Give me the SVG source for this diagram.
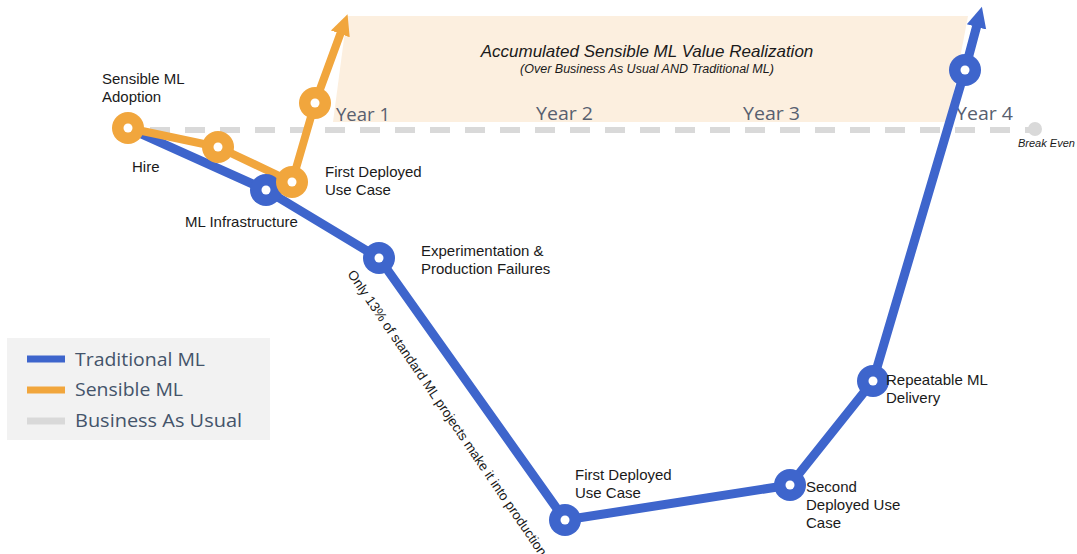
<svg xmlns="http://www.w3.org/2000/svg" width="1077" height="554" viewBox="0 0 1077 554">
<style>
  .lbl{font-family:"Liberation Sans",Arial,sans-serif;font-size:15px;fill:#1a1a1a}
  .yr{font-family:"Open Sans","Noto Sans",sans-serif;font-size:19px;font-weight:500;fill:#58606f}
  .leg{font-family:"Open Sans","Noto Sans",sans-serif;font-size:19px;font-weight:500;fill:#44546a}
  .it{font-family:"Liberation Sans",Arial,sans-serif;font-style:italic;fill:#1a1a1a}
  .blue{stroke:#3e65cc;stroke-width:9;fill:none;stroke-linejoin:round}
  .orange{stroke:#f1a63d;stroke-width:8;fill:none;stroke-linejoin:round}
  .bn{fill:#3e65cc}
  .on{fill:#f1a63d}
  .dot{fill:#ffffff}
</style>
<defs>
  <marker id="ab" markerUnits="userSpaceOnUse" markerWidth="22" markerHeight="22" viewBox="0 0 22 22" refX="2" refY="11" orient="auto">
    <path d="M0,1 L21,11 L0,21 z" fill="#3e65cc"/>
  </marker>
  <marker id="ao" markerUnits="userSpaceOnUse" markerWidth="22" markerHeight="22" viewBox="0 0 22 22" refX="2" refY="11" orient="auto">
    <path d="M0,1 L21,11 L0,21 z" fill="#f1a63d"/>
  </marker>
</defs>
<rect width="1077" height="554" fill="#ffffff"/>
<g id="value-band">
  <polygon points="347,16 968,16 948,122 333,122" fill="#fcefdf"/>
  <text class="it" x="647" y="57" font-size="17" text-anchor="middle">Accumulated Sensible ML Value Realization</text>
  <text class="it" x="647" y="73" font-size="12.5" text-anchor="middle">(Over Business As Usual AND Traditional ML)</text>
</g>
<g id="years">
  <text class="yr" x="336" y="121" textLength="54" lengthAdjust="spacingAndGlyphs">Year 1</text>
  <text class="yr" x="536" y="120" textLength="57" lengthAdjust="spacingAndGlyphs">Year 2</text>
  <text class="yr" x="743" y="120" textLength="57" lengthAdjust="spacingAndGlyphs">Year 3</text>
  <text class="yr" x="956" y="120" textLength="57" lengthAdjust="spacingAndGlyphs">Year 4</text>
</g>
<g id="connectors">
  <line x1="150" y1="130" x2="1030" y2="130" stroke="#d9d9d9" stroke-width="6" stroke-dasharray="20 15"/>
  <polyline class="blue" points="128,128 266,190 379,258 565,520 790,485 873,381 965,70 977,25" marker-end="url(#ab)"/>
  <polyline class="orange" points="128,128 218,147 292,182 315,103 341,32" marker-end="url(#ao)"/>
</g>
<g id="break-even">
  <circle cx="1035" cy="129" r="7" fill="#d9d9d9"/>
  <text class="it" x="1018" y="147" font-size="11">Break Even</text>
</g>
<g id="ml-infrastructure"><circle class="bn" cx="266" cy="190" r="16"/><circle class="dot" cx="266" cy="190" r="4.5"/>
  <text class="lbl" x="185" y="227">ML Infrastructure</text></g>
<g id="experimentation"><circle class="bn" cx="379" cy="258" r="16"/><circle class="dot" cx="379" cy="258" r="4.5"/>
  <text class="lbl" x="421" y="256">Experimentation &amp;</text>
  <text class="lbl" x="421" y="274">Production Failures</text></g>
<g id="first-deployed-trad"><circle class="bn" cx="565" cy="520" r="16"/><circle class="dot" cx="565" cy="520" r="4.5"/>
  <text class="lbl" x="575" y="480">First Deployed</text>
  <text class="lbl" x="575" y="498">Use Case</text></g>
<g id="second-deployed"><circle class="bn" cx="790" cy="485" r="16"/><circle class="dot" cx="790" cy="485" r="4.5"/>
  <text class="lbl" x="806" y="492">Second</text>
  <text class="lbl" x="806" y="510">Deployed Use</text>
  <text class="lbl" x="806" y="528">Case</text></g>
<g id="repeatable"><circle class="bn" cx="873" cy="381" r="16"/><circle class="dot" cx="873" cy="381" r="4.5"/>
  <text class="lbl" x="886" y="385">Repeatable ML</text>
  <text class="lbl" x="886" y="403">Delivery</text></g>
<g id="year4-node"><circle class="bn" cx="965" cy="70" r="16"/><circle class="dot" cx="965" cy="70" r="4.5"/></g>
<g id="adoption"><circle class="on" cx="128" cy="128" r="16"/><circle class="dot" cx="128" cy="128" r="4.5"/>
  <text class="lbl" x="102" y="84">Sensible ML</text>
  <text class="lbl" x="102" y="102">Adoption</text></g>
<g id="hire"><circle class="on" cx="218" cy="147" r="16"/><circle class="dot" cx="218" cy="147" r="4.5"/>
  <text class="lbl" x="132" y="172">Hire</text></g>
<g id="first-deployed-sensible"><circle class="on" cx="292" cy="182" r="16"/><circle class="dot" cx="292" cy="182" r="4.5"/>
  <text class="lbl" x="325" y="177">First Deployed</text>
  <text class="lbl" x="325" y="195">Use Case</text></g>
<g id="year1-node"><circle class="on" cx="315" cy="103" r="16"/><circle class="dot" cx="315" cy="103" r="4.5"/></g>
<g id="note">
  <text class="lbl" transform="translate(347,274) rotate(55.7)" style="font-size:13.5px">Only 13% of standard ML projects make it into production.</text>
</g>
<g id="legend">
  <rect x="7" y="338" width="263" height="102" fill="#f2f2f2"/>
  <line x1="27" y1="359" x2="65" y2="359" stroke="#3e65cc" stroke-width="7"/>
  <text class="leg" x="75" y="366" textLength="130" lengthAdjust="spacingAndGlyphs">Traditional ML</text>
  <line x1="27" y1="390" x2="65" y2="390" stroke="#f1a63d" stroke-width="7"/>
  <text class="leg" x="75" y="396" textLength="108" lengthAdjust="spacingAndGlyphs">Sensible ML</text>
  <line x1="27" y1="421" x2="65" y2="421" stroke="#d9d9d9" stroke-width="7"/>
  <text class="leg" x="75" y="427" textLength="167" lengthAdjust="spacingAndGlyphs">Business As Usual</text>
</g>
</svg>
